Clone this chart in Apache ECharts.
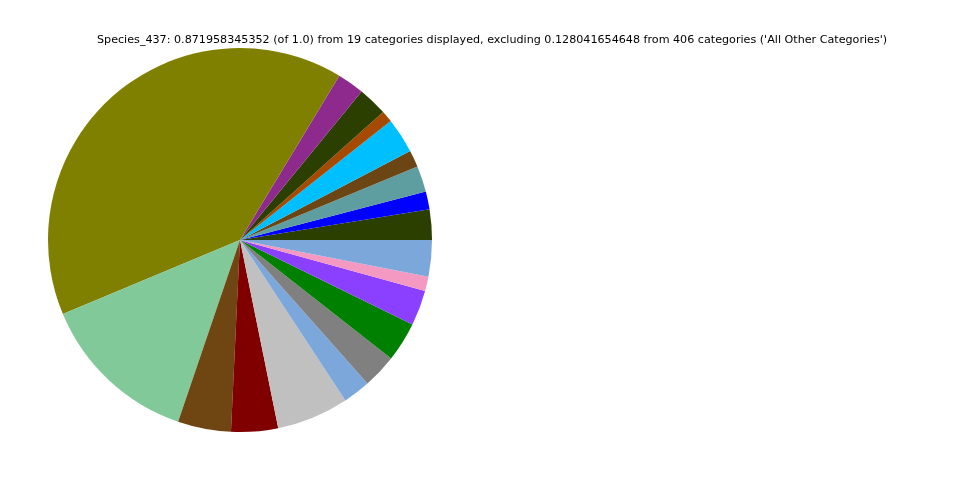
<!DOCTYPE html>
<html>
<head>
<meta charset="utf-8">
<script src="https://cdn.jsdelivr.net/npm/echarts@6/dist/echarts.min.js"></script>
<style>
html,body{margin:0;padding:0;background:#fff;}
#chart{width:960px;height:480px;}
</style>
</head>
<body>
<div id="chart"></div>
<script>
const titleText = "Species_437: 0.871958345352 (of 1.0) from 19 categories displayed, excluding 0.128041654648 from 406 categories ('All Other Categories')";
const categories = ["C1","C2","C3","C4","C5","C6","C7","C8","C9","C10","C11","C12","C13","C14","C15","C16","C17","C18","C19"];
const values = [0.02228, 0.01308, 0.01913, 0.01235, 0.02592, 0.00848, 0.02156, 0.01974, 0.34842, 0.11747, 0.03900, 0.03439, 0.05280, 0.02010, 0.02495, 0.02907, 0.02592, 0.01066, 0.02664];
const colors = ["#2b3f00","#0000ff","#5f9ea0","#6b4513","#00bfff","#a54a00","#2b3f00","#8e2a8e","#808000","#82c99a","#6f4511","#800000","#c0c0c0","#7ba7da","#808080","#008000","#8b3fff","#f49ac2","#7ba7da"];

const chart = echarts.init(document.getElementById('chart'), null, {renderer:'canvas'});
chart.setOption({
  animation: false,
  backgroundColor: '#ffffff',
  title: {
    text: titleText,
    left: 97, top: 35, padding: 0,
    textStyle: {fontFamily: 'DejaVu Sans', fontSize: 11.15, fontWeight: 'normal', color: '#000'}
  },
  series: [{
    type: 'pie',
    center: [240, 240],
    radius: [0, 192],
    startAngle: 0,
    clockwise: false,
    avoidLabelOverlap: false,
    minAngle: 0,
    label: {show: false},
    labelLine: {show: false},
    emphasis: {disabled: true},
    itemStyle: {borderWidth: 0},
    data: categories.map((c, i) => ({name: c, value: values[i], itemStyle: {color: colors[i]}}))
  }]
});
</script>
</body>
</html>
